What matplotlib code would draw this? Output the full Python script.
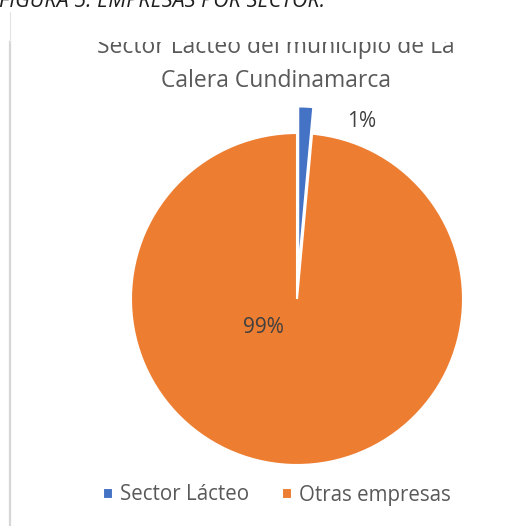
import matplotlib
matplotlib.use('Agg')
import matplotlib.pyplot as plt
from matplotlib.patches import Rectangle
from matplotlib.lines import Line2D

plt.rcParams['font.family'] = ['Open Sans', 'DejaVu Sans']

# Data
categories = ['Sector Lácteo', 'Otras empresas']
values = [1.45, 98.55]
colors = ['#4472C4', '#ED7D31']
title_lines = ['Sector Lacteo del municipio de La', 'Calera Cundinamarca']
caption = 'FIGURA 5: EMPRESAS POR SECTOR:'

W, H = 517, 526
fig = plt.figure(figsize=(W / 100, H / 100), dpi=100)

# pie axes: centre (297, 299) px, radius 166 px
cx, cy, r = 297, 299, 166
ax = fig.add_axes([(cx - r) / W, (H - cy - r) / H, 2 * r / W, 2 * r / H])
wedges, texts, autotexts = ax.pie(values, colors=colors, startangle=90, counterclock=False,
                                  explode=[0.16, 0], autopct='%1.0f%%',
                                  wedgeprops=dict(edgecolor='white', linewidth=1.5),
                                  textprops=dict(color='#404040', fontsize=15))
for w in wedges:
    w.set_clip_on(False)
autotexts[0].set_position((0.39, 1.07))
autotexts[1].set_position((-0.2, -0.17))
for t in autotexts:
    t.set_clip_on(False)
ax.set_xlim(-1, 1)
ax.set_ylim(-1, 1)
ax.set_aspect('equal')
ax.axis('off')

# chart title (top line clipped by the page, as in the document)
fig.text(276 / W, 1 - 53 / H, title_lines[0], ha='center', va='baseline', fontsize=16.5,
         color='#595959')
fig.text(276 / W, 1 - 87 / H, title_lines[1], ha='center', va='baseline', fontsize=16.5,
         color='#595959')
fig.patches.append(Rectangle((0, 1 - 42 / H), 1, 42 / H, transform=fig.transFigure,
                             facecolor='white', edgecolor='none', zorder=5))

# document frame line and caption
fig.lines.append(Line2D([10 / W, 10 / W], [0, 1 - 42 / H], transform=fig.transFigure,
                        color='#d6d6d6', linewidth=1.6, zorder=6))
fig.lines.append(Line2D([10 / W, 10 / W], [1 - 42 / H, 1 - 12 / H], transform=fig.transFigure,
                        color='#e4e4e4', linewidth=0.8, zorder=6))
fig.text(-1 / W, 1 - 7 / H, caption, ha='left', va='baseline', fontsize=15.5,
         style='italic', color='#1f1f1f', zorder=7)

# legend
fig.legend(wedges, categories, loc='center', bbox_to_anchor=(277 / W, 1 - 495 / H), ncol=2,
           frameon=False, fontsize=14.8, handlelength=0.46, handleheight=0.46,
           handletextpad=0.35, columnspacing=1.6, labelcolor='#595959')

fig.savefig('out.png', dpi=100)
